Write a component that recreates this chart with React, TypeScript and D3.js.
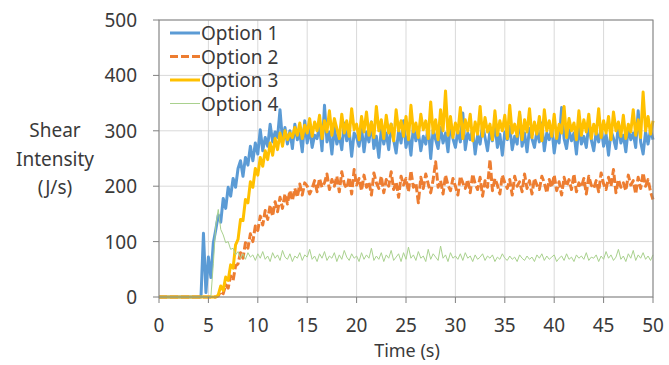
import * as d3 from "d3";

// time step between samples (s)
const step = 0.25;

const option1 = [
  0, 0, 0, 0, 0, 0, 0, 0, 0, 0, 0, 0, 0, 0, 0, 0, 0, 0,
  115, 8, 72, 35, 98, 122, 148, 135, 178, 160, 198, 182, 214, 198, 232, 246, 218, 252, 238, 272, 246, 278,
  258, 302, 264, 288, 272, 312, 280, 298, 288, 338, 282, 306, 276, 300, 268, 312, 284, 296, 262, 318,
  278, 304, 270, 292, 286, 310, 264, 346, 280, 298, 258, 306, 276, 292, 266, 314, 282, 300, 254, 296,
  288, 272, 306, 262, 298, 280, 316, 268, 290, 252, 304, 276, 296, 266, 312, 284, 260, 300, 278, 318,
  270, 294, 256, 308, 282, 298, 264, 290, 276, 310, 250, 302, 284, 268, 306, 278, 296, 262, 314, 286,
  270, 300, 280, 332, 266, 296, 284, 304, 258, 292, 276, 310, 288, 264, 300, 282, 312, 270, 294, 256,
  298, 284, 308, 266, 290, 276, 330, 272, 296, 262, 304, 286, 270, 300, 280, 314, 264, 296, 284, 306,
  260, 292, 278, 342, 286, 268, 302, 282, 296, 258, 308, 276, 290, 270, 312, 284, 264, 298, 280, 306,
  272, 294, 256, 300, 286, 268, 310, 278, 292, 262, 304, 284, 296, 270, 336, 280, 258, 298, 276, 302,
  284,
];

const option2 = [
  0, 0, 0, 0, 0, 0, 0, 0, 0, 0, 0, 0, 0, 0, 0, 0, 0, 0, 0, 0, 0, 0, 0, 0,
  2, 10, 6, 22, 16, 38, 30, 56, 60, 80, 70, 98, 88, 114, 100, 128,
  120, 146, 130, 156, 140, 166, 146, 172, 154, 180, 160, 186, 168, 192, 174, 196, 180, 204, 184, 206,
  200, 186, 196, 210, 190, 214, 198, 206, 222, 194, 212, 200, 218, 190, 226, 204, 196, 216, 186, 230,
  202, 214, 192, 220, 198, 208, 184, 224, 206, 196, 218, 188, 212, 200, 226, 194, 208, 180, 218, 202,
  214, 190, 228, 198, 206, 170, 216, 196, 222, 204, 188, 212, 244, 198, 210, 186, 220, 202, 192, 214,
  200, 184, 218, 206, 196, 212, 188, 222, 204, 194, 216, 182, 210, 198, 248, 192, 214, 202, 186, 220,
  206, 196, 212, 184, 218, 200, 208, 190, 222, 196, 210, 186, 214, 202, 194, 218, 206, 188, 212, 198,
  220, 192, 208, 184, 216, 200, 212, 194, 222, 190, 206, 198, 214, 186, 218, 202, 196, 210, 190, 224,
  204, 194, 216, 200, 230, 188, 212, 198, 206, 192, 220, 202, 210, 186, 216, 196, 224, 200, 212, 190,
  176,
];

const option3 = [
  0, 0, 0, 0, 0, 0, 0, 0, 0, 0, 0, 0, 0, 0, 0, 0, 0, 0, 0, 0, 0, 0, 0, 0,
  4, 20, 12, 36, 30, 58, 52, 94, 104, 140, 138, 176, 170, 208, 198, 232,
  220, 252, 236, 264, 248, 278, 256, 286, 266, 296, 272, 300, 284, 296, 288, 306, 292, 314, 286, 310,
  296, 322, 290, 316, 300, 328, 286, 318, 298, 336, 292, 322, 304, 286, 330, 296, 318, 290, 340, 302,
  312, 284, 326, 298, 334, 292, 316, 288, 344, 300, 320, 286, 328, 296, 312, 282, 338, 300, 318, 290,
  326, 284, 346, 298, 314, 288, 330, 302, 318, 286, 352, 296, 320, 284, 338, 300, 372, 292, 326, 288,
  314, 296, 342, 286, 320, 300, 330, 282, 316, 294, 344, 290, 324, 298, 312, 284, 336, 292, 318, 300,
  328, 286, 346, 296, 312, 290, 334, 284, 320, 298, 340, 288, 316, 294, 326, 282, 338, 300, 318, 290,
  330, 286, 312, 296, 344, 288, 322, 300, 314, 284, 336, 292, 320, 298, 330, 286, 312, 294, 340, 288,
  318, 296, 326, 284, 334, 300, 316, 290, 328, 286, 312, 298, 338, 292, 320, 288, 370, 300, 326, 294,
  318,
];

const option4 = [
  0, 0, 0, 0, 0, 0, 0, 0, 0, 0, 0, 0, 0, 0, 0, 0, 0, 0, 0, 0, 0, 0,
  60, 130, 158, 122, 112, 98, 100, 86, 88, 76, 82, 70, 78, 68, 80, 72, 76, 66,
  78, 70, 82, 68, 74, 64, 80, 70, 76, 66, 84, 72, 68, 78, 64, 74, 70, 80, 66, 76,
  72, 86, 68, 74, 64, 78, 70, 82, 66, 74, 70, 80, 64, 76, 68, 84, 72, 66, 78, 70,
  74, 64, 80, 68, 76, 70, 88, 66, 74, 68, 80, 64, 76, 70, 84, 66, 72, 78, 64, 80,
  68, 90, 70, 76, 66, 82, 70, 74, 64, 86, 68, 78, 72, 66, 92, 70, 76, 64, 80, 70,
  74, 68, 78, 66, 80, 70, 74, 64, 76, 68, 72, 78, 66, 74, 70, 76, 64, 72, 68, 78,
  70, 66, 74, 68, 72, 64, 76, 70, 66, 74, 68, 72, 64, 76, 70, 78, 66, 74, 68, 72,
  76, 64, 70, 74, 66, 78, 68, 72, 64, 76, 70, 74, 68, 80, 66, 72, 70, 76, 64, 74,
  68, 82, 70, 76, 66, 72, 86, 68, 74, 64, 78, 70, 84, 66, 76, 70, 80, 68, 74, 66,
  76,
];

const seriesNames = ["Option 1", "Option 2", "Option 3", "Option 4"];
const xTicks = [0, 5, 10, 15, 20, 25, 30, 35, 40, 45, 50];
const yTicks = [0, 100, 200, 300, 400, 500];

const width = 669;
const height = 365;
const font = "'Noto Sans', 'Open Sans', sans-serif";
const textColor = "#3a3a3a";

const styles = [
  { color: "#5b9bd5", width: 3, dash: undefined },
  { color: "#ed7d31", width: 3, dash: "8,3" },
  { color: "#ffc000", width: 3, dash: undefined },
  { color: "#a9d18e", width: 1, dash: undefined },
];

const App = () => {
  const x = d3.scaleLinear().domain([0, 50]).range([159, 653]);
  const y = d3.scaleLinear().domain([0, 500]).range([297, 20]);

  const line = d3
    .line<number>()
    .x((_, i) => x(i * step))
    .y((d) => y(d));

  const data = [option1, option2, option3, option4];

  return (
    <svg
      width={width}
      height={height}
      style={{ position: "absolute", left: 0, top: 0, background: "#fff" }}
      fontFamily={font}
    >
      {/* grid */}
      {yTicks.map((t) => (
        <line key={"gy" + t} x1={x(0)} x2={x(50)} y1={y(t)} y2={y(t)} stroke="#d9d9d9" />
      ))}
      {xTicks.map((t) => (
        <line key={"gx" + t} x1={x(t)} x2={x(t)} y1={y(0)} y2={y(500)} stroke="#d9d9d9" />
      ))}

      {/* series */}
      {data.map((d, i) => (
        <path
          key={i}
          d={line(d) ?? undefined}
          fill="none"
          stroke={styles[i].color}
          strokeWidth={styles[i].width}
          strokeDasharray={styles[i].dash}
          strokeLinejoin="round"
        />
      ))}

      {/* frame */}
      <rect x={x(0)} y={y(500)} width={x(50) - x(0)} height={y(0) - y(500)} fill="none" stroke="#808080" />

      {/* ticks */}
      {xTicks.map((t) => (
        <g key={"tx" + t}>
          <line x1={x(t)} x2={x(t)} y1={y(0)} y2={y(0) + 6} stroke="#808080" />
          <text x={x(t)} y={332} textAnchor="middle" fontSize={19} fill={textColor}>
            {t}
          </text>
        </g>
      ))}
      {yTicks.map((t) => (
        <g key={"ty" + t}>
          <line x1={x(0) - 6} x2={x(0)} y1={y(t)} y2={y(t)} stroke="#808080" />
          <text x={137} y={y(t) + 7} textAnchor="end" fontSize={19} fill={textColor}>
            {t}
          </text>
        </g>
      ))}

      {/* axis titles */}
      <text x={407} y={357} textAnchor="middle" fontSize={18} fill={textColor}>
        Time (s)
      </text>
      <g fontSize={19} fill={textColor} textAnchor="middle">
        <text x={55} y={137}>Shear</text>
        <text x={55} y={166}>Intensity</text>
        <text x={55} y={194}>(J/s)</text>
      </g>

      {/* legend */}
      {seriesNames.map((name, i) => {
        const ly = 33 + i * 23.5;
        return (
          <g key={name}>
            <line
              x1={170}
              x2={200}
              y1={ly}
              y2={ly}
              stroke={styles[i].color}
              strokeWidth={styles[i].width}
              strokeDasharray={styles[i].dash}
            />
            <text x={201} y={ly + 7} fontSize={19} fill={textColor}>
              {name}
            </text>
          </g>
        );
      })}
    </svg>
  );
};

export default App;
